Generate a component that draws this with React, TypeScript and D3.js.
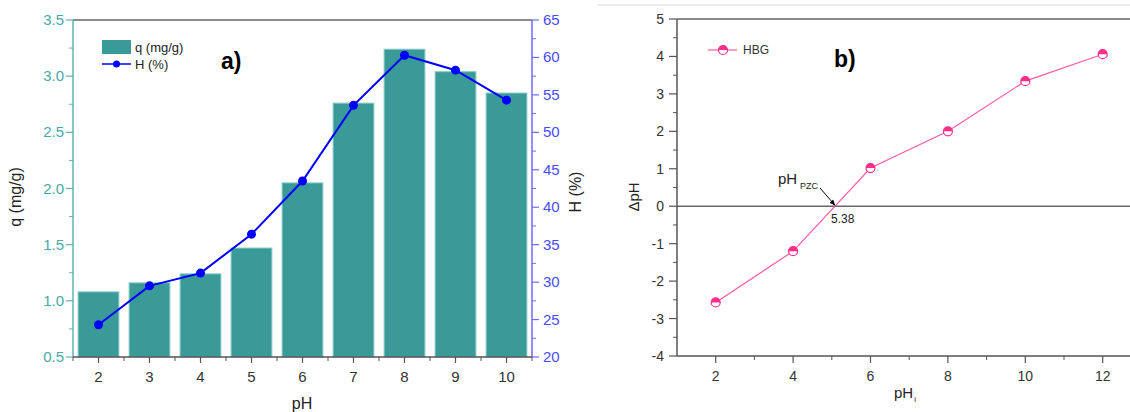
import React from "react";
import * as d3 from "d3";

// panel a) adsorption vs pH
const phA = [2, 3, 4, 5, 6, 7, 8, 9, 10];
const qValues = [1.08, 1.16, 1.24, 1.47, 2.05, 2.76, 3.24, 3.04, 2.85];
const hValues = [24.3, 29.5, 31.2, 36.4, 43.5, 53.6, 60.3, 58.3, 54.3];
const qTicks = [0.5, 1.0, 1.5, 2.0, 2.5, 3.0, 3.5];
const hTicks = [20, 25, 30, 35, 40, 45, 50, 55, 60, 65];

// panel b) point of zero charge
const phInitial = [2, 4, 6, 8, 10, 12];
const deltaPh = [-2.57, -1.2, 1.02, 2.0, 3.34, 4.06];
const dTicks = [-4, -3, -2, -1, 0, 1, 2, 3, 4, 5];
const phiTicks = [2, 4, 6, 8, 10, 12];
const pzcLabel = "5.38";

const FONT = "'Liberation Sans', Arial, sans-serif";
const TEAL = "#3a9a98";
const TEAL_AXIS = "#5fb3b0";
const BLUE = "#0000ff";
const BLUE_AXIS = "#6b6bff";
const PINK = "#ff2d8a";

const App = () => {
  // ---- a)
  const ax0 = 73, ax1 = 532, ayTop = 20, ayBot = 357;
  const x = d3
    .scaleBand<number>()
    .domain(phA)
    .range([ax0, ax1])
    .paddingInner(0.2)
    .paddingOuter(0.1);
  const xc = (d: number) => (x(d) as number) + x.bandwidth() / 2;
  const step = x.step();
  const yq = d3.scaleLinear().domain([0.5, 3.5]).range([ayBot, ayTop]);
  const yh = d3.scaleLinear().domain([20, 65]).range([ayBot, ayTop]);
  const hLine = d3
    .line<number>()
    .x((_, i) => xc(phA[i]))
    .y((d) => yh(d));

  const qMinor = qTicks.slice(0, -1).map((t) => t + 0.25);
  const hMinor = hTicks.slice(0, -1).map((t) => t + 2.5);

  // ---- b)
  const bx0 = 677, byTop = 19, byBot = 356;
  const xb = d3.scaleLinear().domain([1, 13]).range([bx0, bx0 + 12 * 38.7]);
  const yb = d3.scaleLinear().domain([-4, 5]).range([byBot, byTop]);
  const bLine = d3
    .line<number>()
    .x((_, i) => xb(phInitial[i]))
    .y((d) => yb(d));
  const dMinor = dTicks.slice(0, -1).map((t) => t + 0.5);
  const phiMinor = [3, 5, 7, 9, 11];
  const half = d3.arc()({
    innerRadius: 0,
    outerRadius: 4.5,
    startAngle: -Math.PI / 2,
    endAngle: Math.PI / 2,
  } as any) as string;

  // crossing of the curve with zero
  const k = deltaPh.findIndex((d) => d > 0);
  const crossX =
    phInitial[k - 1] +
    ((0 - deltaPh[k - 1]) / (deltaPh[k] - deltaPh[k - 1])) *
      (phInitial[k] - phInitial[k - 1]);
  const tipX = xb(crossX);
  const tipY = yb(0);

  const marker = (cx: number, cy: number, key: any) => (
    <g key={key} transform={`translate(${cx},${cy})`}>
      <circle r={4.5} fill="#fff" stroke={PINK} strokeWidth={1.2} />
      <path d={half} fill={PINK} />
    </g>
  );

  return (
    <svg
      width={1130}
      height={412}
      style={{ position: "absolute", left: 0, top: 0, background: "#fff" }}
      fontFamily={FONT}
    >
      <defs>
        <marker
          id="arrowhead"
          viewBox="0 0 10 10"
          refX="9"
          refY="5"
          markerWidth="6"
          markerHeight="6"
          orient="auto"
        >
          <path d="M0,1 L10,5 L0,9 z" fill="#000" />
        </marker>
      </defs>

      {/* ================= a) ================= */}
      <line x1={ax0} x2={ax1} y1={ayTop} y2={ayTop} stroke="#666" strokeWidth={1.5} />

      {phA.map((d, i) => (
        <rect
          key={"bar" + d}
          x={x(d)}
          y={yq(qValues[i])}
          width={x.bandwidth()}
          height={ayBot - yq(qValues[i])}
          fill={TEAL}
          stroke="#86cbc8"
          strokeWidth={1}
        />
      ))}

      <path d={hLine(hValues) || ""} fill="none" stroke={BLUE} strokeWidth={2} />
      {hValues.map((d, i) => (
        <circle key={"h" + i} cx={xc(phA[i])} cy={yh(d)} r={4.5} fill={BLUE} />
      ))}

      {/* left axis */}
      <line x1={ax0} x2={ax0} y1={ayTop} y2={ayBot} stroke={TEAL_AXIS} strokeWidth={1.5} />
      {qTicks.map((t) => (
        <g key={"qt" + t}>
          <line x1={ax0 - 7} x2={ax0} y1={yq(t)} y2={yq(t)} stroke={TEAL_AXIS} strokeWidth={1.2} />
          <text x={64} y={yq(t) + 5} textAnchor="end" fontSize={15} fill="#4aa9a6">
            {t.toFixed(1)}
          </text>
        </g>
      ))}
      {qMinor.map((t) => (
        <line key={"qm" + t} x1={ax0 - 4} x2={ax0} y1={yq(t)} y2={yq(t)} stroke={TEAL_AXIS} />
      ))}

      {/* right axis */}
      <line x1={ax1} x2={ax1} y1={ayTop} y2={ayBot} stroke={BLUE_AXIS} strokeWidth={1.5} />
      {hTicks.map((t) => (
        <g key={"ht" + t}>
          <line x1={ax1} x2={ax1 + 7} y1={yh(t)} y2={yh(t)} stroke={BLUE_AXIS} strokeWidth={1.2} />
          <text x={543} y={yh(t) + 5} fontSize={15} fill="#4b4bff">
            {t}
          </text>
        </g>
      ))}
      {hMinor.map((t) => (
        <line key={"hm" + t} x1={ax1} x2={ax1 + 4} y1={yh(t)} y2={yh(t)} stroke={BLUE_AXIS} />
      ))}

      {/* bottom axis */}
      <line x1={ax0} x2={ax1} y1={ayBot} y2={ayBot} stroke="#555" strokeWidth={1.5} />
      {phA.map((d) => (
        <g key={"xt" + d}>
          <line x1={xc(d)} x2={xc(d)} y1={ayBot} y2={ayBot + 6} stroke="#555" strokeWidth={1.2} />
          <text x={xc(d)} y={382} textAnchor="middle" fontSize={15} fill="#333">
            {d}
          </text>
        </g>
      ))}
      {d3.range(phA.length + 1).map((i) => (
        <line
          key={"xm" + i}
          x1={ax0 + i * step}
          x2={ax0 + i * step}
          y1={ayBot}
          y2={ayBot + 4}
          stroke="#555"
        />
      ))}

      <text x={302} y={409} textAnchor="middle" fontSize={16} fill="#222">
        pH
      </text>
      <text transform="translate(21,197) rotate(-90)" textAnchor="middle" fontSize={16} fill="#222">
        q (mg/g)
      </text>
      <text transform="translate(581,192) rotate(-90)" textAnchor="middle" fontSize={16} fill="#222">
        H (%)
      </text>

      {/* legend a) */}
      <rect x={102} y={40} width={29} height={14} fill={TEAL} />
      <text x={135} y={52} fontSize={13} fill="#222">
        q (mg/g)
      </text>
      <line x1={102} x2={131} y1={64} y2={64} stroke={BLUE} strokeWidth={1.5} />
      <circle cx={116.5} cy={64} r={3.5} fill={BLUE} />
      <text x={135} y={69} fontSize={13} fill="#222">
        H (%)
      </text>
      <text x={221} y={69} fontSize={23} fontWeight="bold" fill="#000">
        a)
      </text>

      {/* ================= b) ================= */}
      <line x1={597} x2={1130} y1={5} y2={5} stroke="#dcdcdc" strokeWidth={1} />
      <line x1={bx0} x2={1130} y1={byTop} y2={byTop} stroke="#666" strokeWidth={1.5} />
      <line x1={bx0} x2={1130} y1={yb(0)} y2={yb(0)} stroke="#666" strokeWidth={1.5} />
      <line x1={bx0} x2={1130} y1={byBot} y2={byBot} stroke="#555" strokeWidth={1.5} />
      <line x1={bx0} x2={bx0} y1={byTop} y2={byBot} stroke="#555" strokeWidth={1.5} />

      {dTicks.map((t) => (
        <g key={"dt" + t}>
          <line x1={bx0 - 8} x2={bx0} y1={yb(t)} y2={yb(t)} stroke="#555" strokeWidth={1.2} />
          <text x={664} y={yb(t) + 5} textAnchor="end" fontSize={14} fill="#333">
            {t}
          </text>
        </g>
      ))}
      {dMinor.map((t) => (
        <line key={"dm" + t} x1={bx0 - 4} x2={bx0} y1={yb(t)} y2={yb(t)} stroke="#555" />
      ))}
      {phiTicks.map((t) => (
        <g key={"pt" + t}>
          <line x1={xb(t)} x2={xb(t)} y1={byBot} y2={byBot + 7} stroke="#555" strokeWidth={1.2} />
          <text x={xb(t)} y={381} textAnchor="middle" fontSize={14} fill="#333">
            {t}
          </text>
        </g>
      ))}
      {phiMinor.map((t) => (
        <line key={"pm" + t} x1={xb(t)} x2={xb(t)} y1={byBot} y2={byBot + 4} stroke="#555" />
      ))}

      <path d={bLine(deltaPh) || ""} fill="none" stroke="#ff5aa5" strokeWidth={1.2} />
      {deltaPh.map((d, i) => marker(xb(phInitial[i]), yb(d), "m" + i))}

      {/* annotation */}
      <line
        x1={820}
        y1={188}
        x2={tipX}
        y2={tipY - 1}
        stroke="#000"
        strokeWidth={1}
        markerEnd="url(#arrowhead)"
      />
      <text x={778} y={184} fontSize={15} fill="#222">
        pH
      </text>
      <text x={800} y={189} fontSize={9} fill="#222">
        PZC
      </text>
      <text x={831} y={223} fontSize={12} fill="#222">
        {pzcLabel}
      </text>

      {/* legend b) */}
      <line x1={708} x2={737} y1={50} y2={50} stroke="#ff5aa5" strokeWidth={1.2} />
      {marker(723, 50, "legend")}
      <text x={743} y={54} fontSize={12} fill="#333">
        HBG
      </text>
      <text x={834} y={67} fontSize={23} fontWeight="bold" fill="#000">
        b)
      </text>

      <text transform="translate(639,197) rotate(-90)" textAnchor="middle" fontSize={15} fill="#222">
        ΔpH
      </text>
      <text x={894} y={398} fontSize={15} fill="#222">
        pH
        <tspan fontSize={8} dy={4} dx={1}>
          i
        </tspan>
      </text>
    </svg>
  );
};

export default App;
